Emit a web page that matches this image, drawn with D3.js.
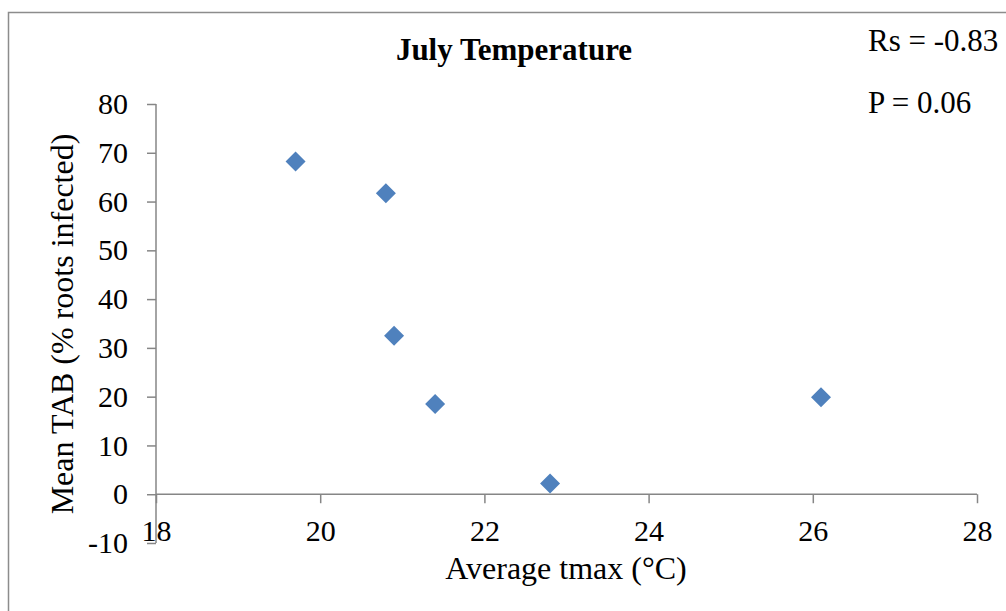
<!DOCTYPE html>
<html>
<head>
<meta charset="utf-8">
<script src="https://cdn.jsdelivr.net/npm/d3@7"></script>
<style>
  body { margin: 0; background: #fff; }
</style>
</head>
<body>
<div id="viz_container"></div>
<script>
// data
const tmax = [19.7, 20.8, 20.9, 21.4, 22.8, 26.1];
const tab = [68.2, 61.7, 32.5, 18.5, 2.2, 19.9];
const xTicks = [18, 20, 22, 24, 26, 28];
const yTicks = [-10, 0, 10, 20, 30, 40, 50, 60, 70, 80];
const statLines = ["Rs = -0.83", "P = 0.06"];

const W = 1006, H = 611;
const margin = { top: 104, right: 29, bottom: 68, left: 156 };
const serif = "'Liberation Serif', Tinos, 'Times New Roman', Times, 'DejaVu Serif', serif";

const svg = d3.select("#viz_container")
    .append("svg")
    .attr("width", W)
    .attr("height", H);

// chart border
svg.append("rect")
    .attr("x", 8.5).attr("y", 12.5)
    .attr("width", W + 10).attr("height", H + 10)
    .attr("fill", "none")
    .attr("stroke", "#8c8c8c")
    .attr("stroke-width", 1.5);

const xScale = d3.scaleLinear().domain([18, 28]).range([margin.left, W - margin.right]);
const yScale = d3.scaleLinear().domain([-10, 80]).range([H - margin.bottom, margin.top]);

const axisColor = "#868686";

// y axis
const yAxis = svg.append("g")
    .attr("transform", `translate(${xScale(18)},0)`)
    .call(d3.axisLeft(yScale).tickValues(yTicks).tickSize(9).tickPadding(19).tickFormat(d => String(d)));

// x axis drawn at y = 0
const xAxis = svg.append("g")
    .attr("transform", `translate(0,${yScale(0)})`)
    .call(d3.axisBottom(xScale).tickValues(xTicks).tickSize(9).tickPadding(16).tickFormat(d => String(d)));

[yAxis, xAxis].forEach(g => {
    g.attr("font-family", serif).attr("font-size", 30);
    g.selectAll("text").attr("fill", "#000");
    g.selectAll("path, line").attr("stroke", axisColor).attr("stroke-width", 1.5);
    g.select(".domain").attr("d", null);
});
// axis lines without end caps
yAxis.append("line")
    .attr("x1", 0).attr("x2", 0)
    .attr("y1", yScale(80)).attr("y2", yScale(-10))
    .attr("stroke", axisColor).attr("stroke-width", 1.5);
xAxis.append("line")
    .attr("x1", xScale(18)).attr("x2", xScale(28))
    .attr("y1", 0).attr("y2", 0)
    .attr("stroke", axisColor).attr("stroke-width", 1.5);

// points
const diamond = d3.symbol().type(d3.symbolSquare).size(200);
svg.append("g")
    .selectAll("path")
    .data(d3.zip(tmax, tab))
    .join("path")
    .attr("d", diamond)
    .attr("transform", d => `translate(${xScale(d[0])},${yScale(d[1])}) rotate(45)`)
    .attr("fill", "#4f81bd");

// title
svg.append("text")
    .attr("x", 514).attr("y", 60)
    .attr("text-anchor", "middle")
    .attr("font-family", serif)
    .attr("font-size", 31)
    .attr("font-weight", "bold")
    .text("July Temperature");

// stats
svg.selectAll(".stat")
    .data(statLines)
    .join("text")
    .attr("class", "stat")
    .attr("x", 868)
    .attr("y", (d, i) => 51 + i * 62)
    .attr("font-family", serif)
    .attr("font-size", 31)
    .text(d => d);

// axis titles
svg.append("text")
    .attr("x", 566).attr("y", 579)
    .attr("text-anchor", "middle")
    .attr("font-family", serif)
    .attr("font-size", 32)
    .text("Average tmax (°C)");

svg.append("text")
    .attr("transform", "translate(73,324) rotate(-90)")
    .attr("text-anchor", "middle")
    .attr("font-family", serif)
    .attr("font-size", 32)
    .text("Mean TAB (% roots infected)");
</script>
</body>
</html>
